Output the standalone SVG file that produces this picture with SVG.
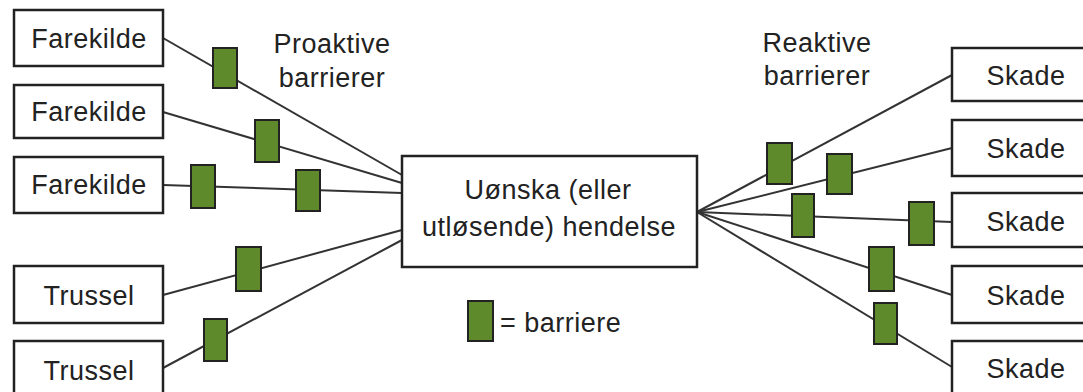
<svg xmlns="http://www.w3.org/2000/svg" width="1083" height="392" viewBox="0 0 1083 392">
<style>
.box{fill:#fff;stroke:#222;stroke-width:2.5}
.bar{fill:#5e8a2b;stroke:#222;stroke-width:2}
.ln{stroke:#333;stroke-width:2;fill:none}
text{font-family:"Liberation Sans",Arial,sans-serif;font-size:27px;fill:#222;letter-spacing:0.5px}
.c{text-anchor:middle}
</style>
<rect width="1083" height="392" fill="#fff"/>
<g id="connectors">
<line class="ln" x1="163" y1="38" x2="402" y2="175"/>
<line class="ln" x1="163" y1="112" x2="402" y2="183"/>
<line class="ln" x1="163" y1="185" x2="402" y2="193"/>
<line class="ln" x1="163" y1="295" x2="402" y2="230"/>
<line class="ln" x1="163" y1="368" x2="402" y2="240"/>
<line class="ln" x1="697" y1="212" x2="952" y2="75"/>
<line class="ln" x1="697" y1="212" x2="952" y2="148"/>
<line class="ln" x1="697" y1="212" x2="952" y2="222"/>
<line class="ln" x1="697" y1="212" x2="952" y2="295"/>
<line class="ln" x1="697" y1="212" x2="952" y2="367"/>
</g>
<g id="barriers">
<rect class="bar" x="213" y="48" width="24" height="40"/>
<rect class="bar" x="255" y="120" width="24" height="42"/>
<rect class="bar" x="191" y="165" width="24" height="43"/>
<rect class="bar" x="296" y="170" width="24" height="41"/>
<rect class="bar" x="236" y="247" width="25" height="44"/>
<rect class="bar" x="204" y="319" width="23" height="42"/>
<rect class="bar" x="767" y="143" width="25" height="41"/>
<rect class="bar" x="827" y="154" width="25" height="40"/>
<rect class="bar" x="792" y="194" width="22" height="43"/>
<rect class="bar" x="909" y="202" width="25" height="43"/>
<rect class="bar" x="869" y="247" width="25" height="44"/>
<rect class="bar" x="874" y="303" width="23" height="41"/>
</g>
<g id="fk1"><rect class="box" x="14" y="10" width="149" height="56"/><text class="c" x="89" y="48">Farekilde</text></g>
<g id="fk2"><rect class="box" x="14" y="85" width="149" height="53"/><text class="c" x="89" y="121">Farekilde</text></g>
<g id="fk3"><rect class="box" x="14" y="157" width="149" height="56"/><text class="c" x="89" y="194">Farekilde</text></g>
<g id="t1"><rect class="box" x="14" y="266" width="149" height="57"/><text class="c" x="89" y="305">Trussel</text></g>
<g id="t2"><rect class="box" x="14" y="341" width="149" height="56"/><text class="c" x="89" y="380">Trussel</text></g>
<g id="event"><rect class="box" x="402" y="156" width="295" height="111"/>
<text class="c" x="548" y="199">Uønska (eller</text>
<text class="c" x="549" y="236">utløsende) hendelse</text></g>
<g id="s1"><rect class="box" x="952" y="48" width="149" height="53"/><text class="c" x="1026" y="85">Skade</text></g>
<g id="s2"><rect class="box" x="952" y="120" width="149" height="56"/><text class="c" x="1026" y="158">Skade</text></g>
<g id="s3"><rect class="box" x="952" y="193" width="149" height="54"/><text class="c" x="1026" y="231">Skade</text></g>
<g id="s4"><rect class="box" x="952" y="266" width="149" height="57"/><text class="c" x="1026" y="305">Skade</text></g>
<g id="s5"><rect class="box" x="952" y="341" width="149" height="56"/><text class="c" x="1026" y="378">Skade</text></g>
<g id="labels">
<text class="c" x="332" y="53">Proaktive</text>
<text class="c" x="332" y="87">barrierer</text>
<text class="c" x="817" y="52">Reaktive</text>
<text class="c" x="817" y="85">barrierer</text>
</g>
<g id="legend">
<rect class="bar" x="468" y="301" width="25" height="40"/>
<text x="500" y="332">= barriere</text>
</g>
</svg>
